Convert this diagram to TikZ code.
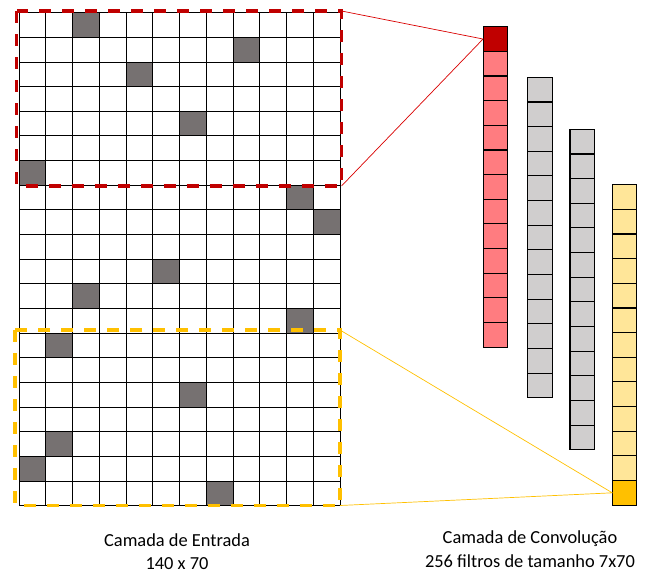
\documentclass[tikz,border=0pt]{standalone}
\usepackage{fontspec}
\setmainfont{Carlito}
\definecolor{cellgray}{HTML}{767171}
\definecolor{darkred}{HTML}{C00000}
\definecolor{lightred}{HTML}{FF7C80}
\definecolor{colgray}{HTML}{D0CECE}
\definecolor{lightyel}{HTML}{FFE699}
\definecolor{deepyel}{HTML}{FFC000}
\begin{document}
\begin{tikzpicture}[x=1pt,y=-1pt,
  gridline/.style={line width=1pt,draw=black,line cap=rect},
  colcell/.style={draw=black,line width=1.1pt,rectangle,minimum width=24.5pt,minimum height=24.65pt,inner sep=0pt,outer sep=0pt},
  dashbox/.style={line width=3.4pt,dash pattern=on 12pt off 11pt},
  link/.style={line width=0.7pt},
  caption/.style={align=center,font=\fontsize{18.4pt}{23.5pt}\selectfont,text=black}]
\useasboundingbox (0,0) rectangle (646,573);
% input grid
\fill[white] (19,12.7) rectangle (340,505.7);
\foreach \c/\r in {2/0,8/1,4/2,6/4,0/6,10/7,11/8,5/10,2/11,10/12,1/13,6/15,1/17,0/18,7/19}
  \fill[cellgray] ({19+\c*26.75},{12.7+\r*24.65}) rectangle ++(26.75,24.65);
\foreach \i in {0,...,12}
  \draw[gridline] ({19+\i*26.75},12.7) -- ({19+\i*26.75},505.7);
\foreach \j in {0,...,20}
  \draw[gridline] (19,{12.7+\j*24.65}) -- (340,{12.7+\j*24.65});
% dashed windows
\draw[dashbox,draw=darkred] (16.5,11) rectangle (341.5,186);
\draw[dashbox,draw=deepyel] (15,330) rectangle (340,505.5);
\coordinate (rTR) at (341.5,11);
\coordinate (rBR) at (341.5,186);
\coordinate (yTR) at (340,330);
\coordinate (yBR) at (340,505.5);
% filter columns
\foreach \k in {0,...,12}{
  \node[colcell,fill=lightred] (r\k) at (495.3,{26.7+12.325+\k*24.65}) {};
  \node[colcell,fill=colgray] (g\k) at (539.9,{77.3+12.325+\k*24.65}) {};
  \node[colcell,fill=colgray] (h\k) at (582.2,{129.3+12.325+\k*24.65}) {};
  \node[colcell,fill=lightyel] (y\k) at (624.5,{184.7+12.325+\k*24.65}) {};
}
\node[colcell,fill=darkred] (r0) at (495.3,{26.7+12.325}) {};
\node[colcell,fill=deepyel] (y12) at (624.5,{184.7+12.325+12*24.65}) {};
% connectors
\draw[link,draw=red!85!black] (rTR) -- (r0.west) -- (rBR);
\draw[link,draw=deepyel] (yTR) -- (y12.west) -- (yBR);
% captions
\node[caption] (cin) at (177,551.5) {Camada de Entrada\\140 x 70};
\node[caption] (cconv) at (530,549) {Camada de Convolução\\256 filtros de tamanho 7x70};
\end{tikzpicture}
\end{document}
